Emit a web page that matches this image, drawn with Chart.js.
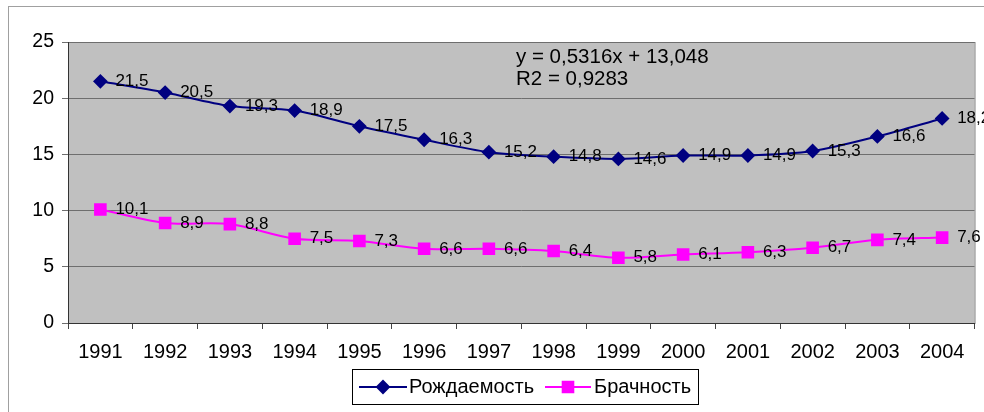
<!DOCTYPE html>
<html>
<head>
<meta charset="utf-8">
<script src="https://cdn.jsdelivr.net/npm/chart.js@4.4.1/dist/chart.umd.min.js"></script>
<style>
  html, body { margin: 0; padding: 0; background: #fff; }
  #wrap { width: 984px; height: 412px; }
</style>
</head>
<body>
<div id="wrap"><canvas id="demoChart" width="984" height="412"></canvas></div>
<script>
"use strict";
const years = ['1991', '1992', '1993', '1994', '1995', '1996', '1997', '1998', '1999', '2000', '2001', '2002', '2003', '2004'];
const birthRate = [21.5, 20.5, 19.3, 18.9, 17.5, 16.3, 15.2, 14.8, 14.6, 14.9, 14.9, 15.3, 16.6, 18.2];
const marriageRate = [10.1, 8.9, 8.8, 7.5, 7.3, 6.6, 6.6, 6.4, 5.8, 6.1, 6.3, 6.7, 7.4, 7.6];
const trendLines = ['y = 0,5316x + 13,048', 'R2 = 0,9283'];
const FONT = '"Liberation Sans", Arial, sans-serif';

//gray plot area and outer frame
const backgroundPlugin = {
    id: 'plotBackground',
    beforeDraw(chart) {
        const ctx = chart.ctx;
        const a = chart.chartArea;
        ctx.save();
        ctx.fillStyle = '#fff';
        ctx.fillRect(0, 0, chart.width, chart.height);
        ctx.strokeStyle = '#a0a0a0';
        ctx.lineWidth = 1;
        ctx.strokeRect(8.5, 6.5, 1100, 600);
        ctx.fillStyle = '#c0c0c0';
        ctx.fillRect(a.left, a.top, a.right - a.left, a.bottom - a.top);
        ctx.strokeStyle = '#808080';
        ctx.strokeRect(a.left + 0.5, a.top + 0.5, a.right - a.left, a.bottom - a.top);
        ctx.restore();
    }
};

//value labels, trend text and legend box
const labelPlugin = {
    id: 'valueLabels',
    afterDatasetsDraw(chart) {
        const ctx = chart.ctx;
        ctx.save();
        ctx.fillStyle = '#000';
        ctx.font = '17px ' + FONT;
        ctx.textBaseline = 'middle';
        ctx.textAlign = 'left';
        chart.data.datasets.forEach((ds, i) => {
            const meta = chart.getDatasetMeta(i);
            meta.data.forEach((pt, j) => {
                const txt = ds.data[j].toFixed(1).replace('.', ',');
                ctx.fillText(txt, pt.x + 15, pt.y);
            });
        });

        ctx.font = '20.5px ' + FONT;
        ctx.fillText(trendLines[0], 516, 57);
        ctx.fillText(trendLines[1], 516, 79);

        //legend
        const lx = 352.5, ly = 369.5, lw = 346, lh = 35;
        ctx.fillStyle = '#fff';
        ctx.fillRect(lx, ly, lw, lh);
        ctx.strokeStyle = '#000';
        ctx.lineWidth = 1;
        ctx.strokeRect(lx, ly, lw, lh);
        const cy = ly + lh / 2;
        const items = [
            { x0: 359, x1: 407, tx: 409, ds: chart.data.datasets[0] },
            { x0: 545, x1: 591, tx: 594, ds: chart.data.datasets[1] }
        ];
        items.forEach(it => {
            ctx.strokeStyle = it.ds.borderColor;
            ctx.lineWidth = 2;
            ctx.beginPath();
            ctx.moveTo(it.x0, cy);
            ctx.lineTo(it.x1, cy);
            ctx.stroke();
            Chart.helpers.drawPoint(ctx, {
                pointStyle: it.ds.pointStyle,
                radius: it.ds.pointRadius,
                borderWidth: 1
            }, (it.x0 + it.x1) / 2, cy);
            ctx.fillStyle = it.ds.pointBackgroundColor;
            ctx.fill();
            ctx.fillStyle = '#000';
            ctx.font = '20px ' + FONT;
            ctx.fillText(it.ds.label, it.tx, cy);
        });
        ctx.restore();
    }
};

const ctx = document.getElementById('demoChart').getContext('2d');
const demoChart = new Chart(ctx, {
    type: 'line',
    data: {
        labels: years,
        datasets: [
            {
                label: 'Рождаемость',
                data: birthRate,
                borderColor: '#000080',
                backgroundColor: '#000080',
                pointBackgroundColor: '#000080',
                pointBorderColor: '#000080',
                pointStyle: 'rectRot',
                pointRadius: 6,
                borderWidth: 2,
                tension: 0.3,
                fill: false
            },
            {
                label: 'Брачность',
                data: marriageRate,
                borderColor: '#ff00ff',
                backgroundColor: '#ff00ff',
                pointBackgroundColor: '#ff00ff',
                pointBorderColor: '#ff00ff',
                pointStyle: 'rect',
                pointRadius: 7.5,
                borderWidth: 2,
                tension: 0.3,
                fill: false
            }
        ]
    },
    options: {
        responsive: false,
        animation: false,
        devicePixelRatio: 1,
        layout: { padding: { left: 0, top: 42, right: 5, bottom: 0 } },
        plugins: {
            legend: { display: false },
            tooltip: { enabled: false }
        },
        scales: {
            x: {
                offset: true,
                grid: { offset: true, drawOnChartArea: false, drawTicks: true, tickLength: 6, color: '#444' },
                border: { color: '#333' },
                ticks: { color: '#000', font: { family: FONT, size: 20 }, padding: 11, maxRotation: 0, autoSkip: false },
                afterFit(scale) { scale.height = 89; }
            },
            y: {
                min: 0,
                max: 25,
                ticks: { stepSize: 5, color: '#000', font: { family: FONT, size: 19.5 }, padding: 8 },
                grid: { color: '#6e6e6e', tickLength: 6 },
                border: { color: '#333' },
                afterFit(scale) { scale.width = 68; }
            }
        }
    },
    plugins: [backgroundPlugin, labelPlugin]
});
</script>
</body>
</html>
